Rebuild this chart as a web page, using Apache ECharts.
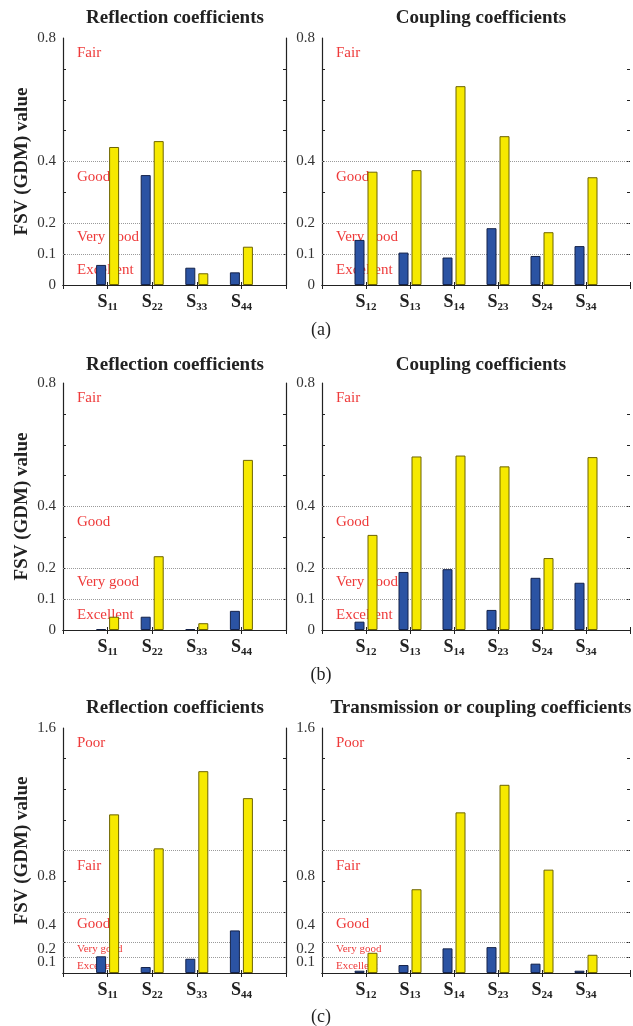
<!DOCTYPE html>
<html><head><meta charset="utf-8">
<script src="https://cdn.jsdelivr.net/npm/echarts@6/dist/echarts.min.js"></script>
<style>html,body{margin:0;padding:0;background:#fff}#c{width:633px;height:1026px}</style>
</head><body><div id="c"></div>
<script>
// ---------- data ----------
const reflCats = ['11', '22', '33', '44'];
const coupCats = ['12', '13', '14', '23', '24', '34'];

// (a)
const aReflBlue   = [0.065, 0.356, 0.056, 0.041];
const aReflYellow = [0.447, 0.466, 0.038, 0.124];
const aCoupBlue   = [0.146, 0.105, 0.089, 0.184, 0.094, 0.126];
const aCoupYellow = [0.367, 0.372, 0.644, 0.482, 0.171, 0.349];
// (b)
const bReflBlue   = [0.003, 0.043, 0.003, 0.062];
const bReflYellow = [0.043, 0.239, 0.022, 0.551];
const bCoupBlue   = [0.027, 0.188, 0.197, 0.065, 0.169, 0.153];
const bCoupYellow = [0.308, 0.562, 0.565, 0.530, 0.233, 0.560];
// (c)
const cReflBlue   = [0.109, 0.039, 0.093, 0.278];
const cReflYellow = [1.036, 0.814, 1.318, 1.142];
const cCoupBlue   = [0.015, 0.052, 0.161, 0.169, 0.061, 0.015];
const cCoupYellow = [0.132, 0.547, 1.049, 1.229, 0.675, 0.119];

// y tick labels (text and the value where each is printed)
const yTickTextAB = ['0', '0.1', '0.2', '0.4', '0.8'];
const yTickAtAB   = [0, 0.1, 0.2, 0.4, 0.8];
const yTickTextC  = ['0', '0.1', '0.2', '0.4', '0.8', '1.6'];
const yTickAtC    = [0, 0.072, 0.157, 0.313, 0.633, 1.6];
const minorTicksAB = [0.1, 0.2, 0.3, 0.4, 0.5, 0.6, 0.7];
const minorTicksC  = [0.1, 0.2, 0.4, 0.6, 0.8, 1.0, 1.2, 1.4];
// threshold grid lines
const gridLinesAB = [0.1, 0.2, 0.4];
const gridLinesC  = [0.1, 0.2, 0.4, 0.8];
// FSV bands
const bandNamesAB  = ['Fair', 'Good', 'Very good', 'Excellent'];
const bandLevelsAB = [0.75, 0.35, 0.155, 0.05];
const bandNamesC   = ['Poor', 'Fair', 'Good', 'Very good', 'Excellent'];
const bandLevelsC  = [1.5, 0.70, 0.32, 0.157, 0.046];

const titleRefl  = 'Reflection coefficients';
const titleCoup  = 'Coupling coefficients';
const titleTrans = 'Transmission or coupling coefficients';
const yName = 'FSV (GDM) value';
const captions = ['(a)', '(b)', '(c)'];

// ---------- layout / style ----------
const FONT = '"Liberation Serif", "Times New Roman", serif';
const RED = '#ee3a3a';
const AX = '#222';
const rows = [
  {top: 38,  height: 247, max: 0.8, tt: yTickTextAB, ta: yTickAtAB, minor: minorTicksAB, gl: gridLinesAB, bn: bandNamesAB, bl: bandLevelsAB, small: [], titleY: 18, capY: 330},
  {top: 383, height: 247, max: 0.8, tt: yTickTextAB, ta: yTickAtAB, minor: minorTicksAB, gl: gridLinesAB, bn: bandNamesAB, bl: bandLevelsAB, small: [], titleY: 365, capY: 675},
  {top: 728, height: 245, max: 1.6, tt: yTickTextC,  ta: yTickAtC,  minor: minorTicksC,  gl: gridLinesC,  bn: bandNamesC,  bl: bandLevelsC,  small: ['Very good', 'Excellent'], titleY: 708, capY: 1017}
];
const cols = [{left: 63, width: 223, titleX: 175, frame: true}, {left: 322, width: 311, titleX: 481, frame: false}];
const capX = 321;

const panels = [
  {row: 0, col: 0, title: titleRefl,  cats: reflCats, blue: aReflBlue, yellow: aReflYellow},
  {row: 0, col: 1, title: titleCoup,  cats: coupCats, blue: aCoupBlue, yellow: aCoupYellow},
  {row: 1, col: 0, title: titleRefl,  cats: reflCats, blue: bReflBlue, yellow: bReflYellow},
  {row: 1, col: 1, title: titleCoup,  cats: coupCats, blue: bCoupBlue, yellow: bCoupYellow},
  {row: 2, col: 0, title: titleRefl,  cats: reflCats, blue: cReflBlue, yellow: cReflYellow},
  {row: 2, col: 1, title: titleTrans, cats: coupCats, blue: cCoupBlue, yellow: cCoupYellow}
];

function nearestLabel(v, at, txt) {
  let k = 0, best = 1e9;
  at.forEach((a, j) => { const d = Math.abs(a - v); if (d < best) { best = d; k = j; } });
  return txt[k];
}

const grid = [], xAxis = [], yAxis = [], series = [];
panels.forEach((p, i) => {
  const r = rows[p.row], c = cols[p.col];
  grid.push({left: c.left, top: r.top, width: c.width, height: r.height, containLabel: false});
  const padded = [''].concat(p.cats).concat(['']);
  // bottom axis
  xAxis.push({
    type: 'category', gridIndex: i, data: padded, boundaryGap: false, position: 'bottom',
    axisLine: {show: true, lineStyle: {color: AX, width: 1.2}},
    axisTick: {show: true, inside: true, length: 3, interval: 0, lineStyle: {color: AX}},
    axisLabel: {
      interval: 0, margin: 6,
      formatter: v => v ? '{s|S}{d|' + v + '}' : '',
      rich: {
        s: {fontFamily: FONT, fontWeight: 'bold', fontSize: 18, color: '#222', lineHeight: 22},
        d: {fontFamily: FONT, fontWeight: 'bold', fontSize: 11, color: '#222', lineHeight: 12, verticalAlign: 'bottom'}
      }
    },
    splitLine: {show: false}
  });
  // top axis (frame)
  xAxis.push({
    type: 'category', gridIndex: i, data: padded, boundaryGap: false, position: 'top',
    axisLine: {show: true, lineStyle: {color: AX, width: 1.2}},
    axisTick: {show: true, inside: true, length: 4, interval: 0, lineStyle: {color: AX}},
    axisLabel: {show: false}, splitLine: {show: false}
  });
  // left axis
  yAxis.push({
    type: 'value', gridIndex: i, min: 0, max: r.max, position: 'left',
    name: p.col === 0 ? yName : '', nameLocation: 'middle', nameGap: 31, nameRotate: 90,
    nameTextStyle: {fontFamily: FONT, fontWeight: 'bold', fontSize: 19, color: '#222'},
    axisLine: {show: true, lineStyle: {color: AX, width: 1.2}},
    axisTick: {show: true, inside: true, length: 3, customValues: r.minor, lineStyle: {color: AX}},
    axisLabel: {
      show: true, margin: 7, customValues: r.ta,
      formatter: v => nearestLabel(v, r.ta, r.tt),
      fontFamily: FONT, fontSize: 15, color: '#333'
    },
    splitLine: {show: false}
  });
  // right axis (frame)
  yAxis.push({
    type: 'value', gridIndex: i, min: 0, max: r.max, position: 'right',
    axisLine: {show: c.frame, lineStyle: {color: AX, width: 1.2}},
    axisTick: {show: true, inside: true, length: 3, customValues: r.minor, lineStyle: {color: AX}},
    axisLabel: {show: false}, splitLine: {show: false}
  });
  const pad = arr => [null].concat(arr).concat([null]);
  series.push({
    type: 'bar', xAxisIndex: 2 * i, yAxisIndex: 2 * i, data: pad(p.blue),
    barWidth: 10, barGap: '30%', z: 3,
    itemStyle: {color: '#2b53a3', borderColor: '#15234a', borderWidth: 1},
    markLine: {
      silent: true, symbol: 'none', z: 1, animation: false,
      label: {show: false},
      lineStyle: {type: 'dotted', color: '#9a9a9a', width: 1},
      data: r.gl.map(v => ({yAxis: v}))
    }
  });
  series.push({
    type: 'bar', xAxisIndex: 2 * i, yAxisIndex: 2 * i, data: pad(p.yellow),
    barWidth: 10, barGap: '30%', z: 3,
    itemStyle: {color: '#f6e900', borderColor: '#6d6400', borderWidth: 1}
  });
});

const chart = echarts.init(document.getElementById('c'));
chart.setOption({animation: false, backgroundColor: '#fff', grid, xAxis, yAxis, series});

// ---------- texts ----------
const graphic = [];
function txt(x, y, text, font, fill, align) {
  graphic.push({
    type: 'text', x: x, y: y, silent: true,
    style: {text: text, font: font, fill: fill, align: align, verticalAlign: 'middle',
            textAlign: align, textVerticalAlign: 'middle'}
  });
}
panels.forEach((p, i) => {
  const r = rows[p.row], c = cols[p.col];
  txt(c.titleX, r.titleY, p.title, 'bold 19px ' + FONT, '#222', 'center');
  r.bn.forEach((name, k) => {
    const y = chart.convertToPixel({yAxisIndex: 2 * i}, r.bl[k]);
    const size = r.small.indexOf(name) >= 0 ? 11 : 15;
    txt(c.left + 14, y, name, size + 'px ' + FONT, RED, 'left');
  });
});
rows.forEach((r, k) => txt(capX, r.capY, captions[k], '18px ' + FONT, '#222', 'center'));
chart.setOption({graphic: graphic});
</script></body></html>
